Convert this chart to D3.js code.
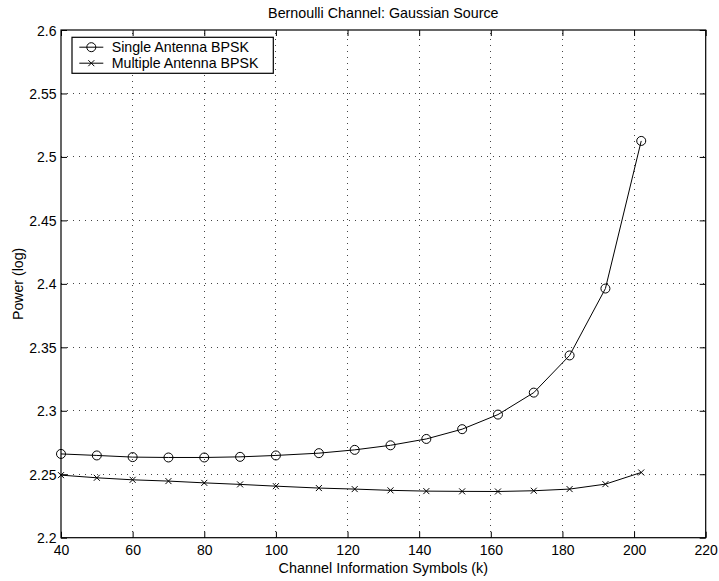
<!DOCTYPE html>
<html>
<head>
<meta charset="utf-8">
<script src="https://cdn.jsdelivr.net/npm/d3@7/dist/d3.min.js"></script>
<style>
  html, body { margin: 0; padding: 0; background: #fff; }
  svg text { font-family: "Liberation Sans", Arial, Helvetica, sans-serif; fill: #000; }
</style>
</head>
<body>
<svg id="chart" width="719" height="581"></svg>
<script>
const symbols = [40, 50, 60, 70, 80, 90, 100, 112, 122, 132, 142, 152, 162, 172, 182, 192, 202];
const singleAntenna = [2.2660, 2.2648, 2.2635, 2.2632, 2.2632, 2.2637, 2.2648, 2.2666, 2.2692, 2.2728, 2.2778, 2.2855, 2.2970, 2.3143, 2.3436, 2.3963, 2.5126];
const multipleAntenna = [2.2493, 2.2472, 2.2456, 2.2446, 2.2432, 2.2420, 2.2406, 2.2391, 2.2383, 2.2373, 2.2367, 2.2365, 2.2364, 2.2370, 2.2383, 2.2422, 2.2514];
const xTicks = [40, 60, 80, 100, 120, 140, 160, 180, 200, 220];
const yTicks = [2.2, 2.25, 2.3, 2.35, 2.4, 2.45, 2.5, 2.55, 2.6];
const seriesNames = ["Single Antenna BPSK", "Multiple Antenna BPSK"];
const titleText = "Bernoulli Channel: Gaussian Source";
const xLabel = "Channel Information Symbols (k)";
const yLabel = "Power (log)";

const svg = d3.select("#chart");
const L = 61, R = 705.7, T = 30, B = 537.7;
const x = d3.scaleLinear().domain([40, 220]).range([L, R]);
const y = d3.scaleLinear().domain([2.2, 2.6]).range([B, T]);
const fs = 14;

// grid
const grid = svg.append("g").attr("stroke", "#444").attr("stroke-width", 1).attr("stroke-dasharray", "1,5").attr("shape-rendering", "crispEdges");
xTicks.slice(1, -1).forEach(t => grid.append("line").attr("x1", x(t)).attr("x2", x(t)).attr("y1", B).attr("y2", T));
yTicks.slice(1, -1).forEach(t => grid.append("line").attr("x1", L).attr("x2", R).attr("y1", y(t)).attr("y2", y(t)));

// axes with inward ticks
const tl = 6;
const axB = svg.append("g").attr("transform", `translate(0,${B})`).call(d3.axisBottom(x).tickValues(xTicks).tickSizeInner(-tl).tickSizeOuter(0));
const axT = svg.append("g").attr("transform", `translate(0,${T})`).call(d3.axisTop(x).tickValues(xTicks).tickSizeInner(-tl).tickSizeOuter(0).tickFormat(""));
const axL = svg.append("g").attr("transform", `translate(${L},0)`).call(d3.axisLeft(y).tickValues(yTicks).tickSizeInner(-tl).tickSizeOuter(0).tickFormat(d3.format("")));
const axR = svg.append("g").attr("transform", `translate(${R},0)`).call(d3.axisRight(y).tickValues(yTicks).tickSizeInner(-tl).tickSizeOuter(0).tickFormat(""));
[axB, axT, axL, axR].forEach(a => {
  a.select(".domain").remove();
  a.selectAll("line").attr("stroke", "#000");
  a.selectAll("text").attr("font-size", fs).attr("font-family", null);
});
axL.selectAll("text").attr("x", -4.5).attr("dy", "0.36em");
axB.selectAll("text").attr("y", 555 - B).attr("dy", 0);

// frame
svg.append("rect").attr("x", L).attr("y", T).attr("width", R - L).attr("height", B - T)
  .attr("fill", "none").attr("stroke", "#000").attr("stroke-width", 1.2);

// series
const line = d3.line().x(d => x(d[0])).y(d => y(d[1]));
const s1 = symbols.map((s, i) => [s, singleAntenna[i]]);
const s2 = symbols.map((s, i) => [s, multipleAntenna[i]]);
svg.append("path").datum(s1).attr("d", line).attr("fill", "none").attr("stroke", "#000").attr("stroke-width", 1);
svg.append("path").datum(s2).attr("d", line).attr("fill", "none").attr("stroke", "#000").attr("stroke-width", 1);

function circleMarker(g, cx, cy) {
  g.append("circle").attr("cx", cx).attr("cy", cy).attr("r", 4.5).attr("fill", "none").attr("stroke", "#000").attr("stroke-width", 1);
}
function crossMarker(g, cx, cy) {
  const s = 3;
  g.append("path").attr("d", `M${cx - s},${cy - s}L${cx + s},${cy + s}M${cx - s},${cy + s}L${cx + s},${cy - s}`)
    .attr("stroke", "#000").attr("stroke-width", 1).attr("fill", "none");
}
const mk = svg.append("g");
s1.forEach(d => circleMarker(mk, x(d[0]), y(d[1])));
s2.forEach(d => crossMarker(mk, x(d[0]), y(d[1])));

// legend
const lg = svg.append("g");
lg.append("rect").attr("x", 72).attr("y", 37.3).attr("width", 201.3).attr("height", 36)
  .attr("fill", "#fff").attr("stroke", "#000").attr("stroke-width", 1.2);
const lineY = [47.2, 63.2];
const textY = [52.3, 68.3];
seriesNames.forEach((name, i) => {
  const cy = lineY[i];
  lg.append("line").attr("x1", 79.3).attr("x2", 103.3).attr("y1", cy).attr("y2", cy).attr("stroke", "#000").attr("stroke-width", 1);
  if (i === 0) circleMarker(lg, 91.3, cy); else crossMarker(lg, 91.3, cy);
  lg.append("text").attr("x", 111.7).attr("y", textY[i]).attr("font-size", 14.2).text(name);
});

// titles
svg.append("text").attr("x", (L + R) / 2).attr("y", 18.3).attr("text-anchor", "middle").attr("font-size", 14.3).text(titleText);
svg.append("text").attr("x", (L + R) / 2).attr("y", 572.7).attr("text-anchor", "middle").attr("font-size", 14.4).text(xLabel);
svg.append("text").attr("transform", `translate(22.7,${(T + B) / 2}) rotate(-90)`).attr("text-anchor", "middle").attr("font-size", 14.1).text(yLabel);
</script>
</body>
</html>
